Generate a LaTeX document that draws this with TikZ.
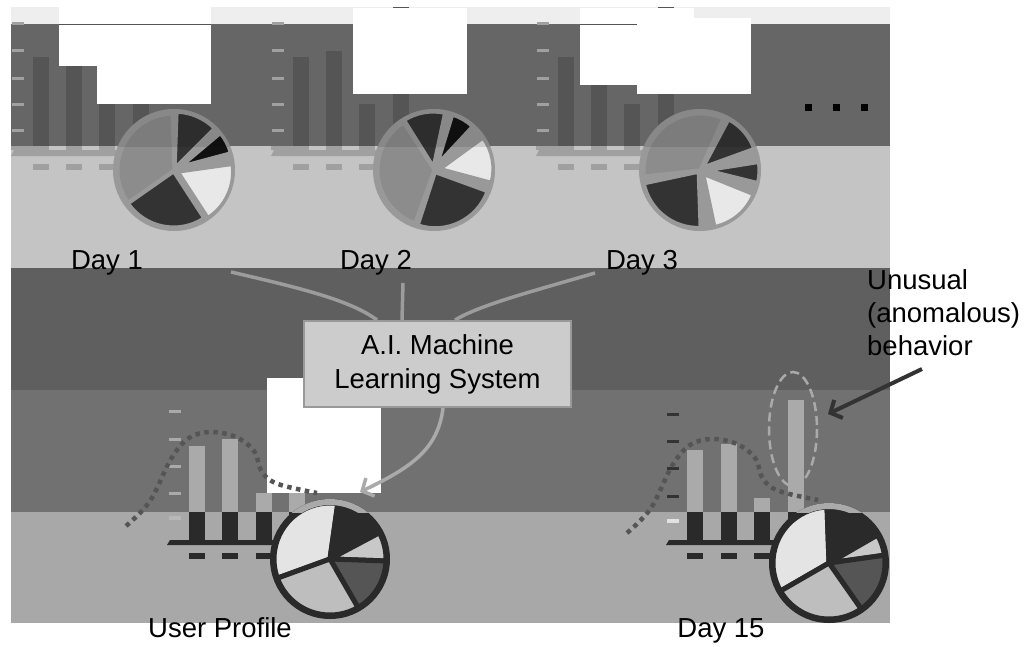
\documentclass[tikz,border=0pt]{standalone}
\usepackage{fontspec}
\setmainfont{Liberation Sans}
\usetikzlibrary{arrows.meta}
\definecolor{cStrip}{HTML}{EEEEEE}
\definecolor{cBandA}{HTML}{666666}
\definecolor{cBandB}{HTML}{C4C4C4}
\definecolor{cBandC}{HTML}{5F5F5F}
\definecolor{cBandD}{HTML}{717171}
\definecolor{cBandE}{HTML}{A8A8A8}
\definecolor{cBar}{HTML}{555555}
\definecolor{cTick}{HTML}{A0A0A0}
\definecolor{cRing}{HTML}{999999}
\definecolor{cBig}{HTML}{8C8C8C}
\definecolor{cDark}{HTML}{333333}
\definecolor{cWhite}{HTML}{E8E8E8}
\definecolor{cBlack}{HTML}{111111}
\definecolor{cInk}{HTML}{2A2A2A}
\definecolor{cLight}{HTML}{AAAAAA}
\definecolor{cLine}{HTML}{9C9C9C}
\definecolor{cDot}{HTML}{555555}
\definecolor{cBox}{HTML}{CCCCCC}
\definecolor{cPieA}{HTML}{E4E4E4}
\definecolor{cPieB}{HTML}{C8C8C8}
\definecolor{cPieC}{HTML}{555555}
\definecolor{cPieD}{HTML}{BEBEBE}
\newcommand{\pwedge}[5]{%
  \filldraw[#1] ({(#2+#3)/2}:#5) -- ++(#2:#4) arc[start angle=#2, end angle=#3, radius=#4] -- cycle;}
\tikzset{
  lbl/.style={font=\fontsize{27.5}{33}\selectfont, inner sep=0pt, anchor=base},
  toppie/.style={draw=cRing, line width=3pt, line join=round},
  lowpie/.style={draw=cInk, line width=5pt, line join=round},
  feed/.style={draw=cLine, line width=3.5pt},
  dotcurve/.style={draw=cDot, line width=4.5pt, dash pattern=on 4.5pt off 4.5pt},
  barb/.style={-{Straight Barb[length=9pt,width=20pt]}}
}
\begin{document}
\begin{tikzpicture}[x=1pt,y=-1pt]
\useasboundingbox (0,0) rectangle (1029,646);
\fill[white] (0,0) rectangle (1029,646);
% bands
\fill[cStrip] (11,7) rectangle (890,24);
\fill[cBandA] (11,24) rectangle (890,146);
\fill[cBandB] (11,146) rectangle (890,268);
\fill[cBandC] (11,268) rectangle (890,390);
\fill[cBandD] (11,390) rectangle (890,512);
\fill[cBandE] (11,512) rectangle (890,623);
% top charts
\foreach \ox in {0,260,525}{
  \begin{scope}[xshift=\ox]
    \foreach \ty in {22,48.5,76.5,102.5,128.5}{\fill[cTick] (12,\ty) rectangle (24,\ty+3);}
    \fill[cBar] (33,57) rectangle (49,146);
    \fill[cBar] (66,51) rectangle (82,146);
    \fill[cBar] (99,104) rectangle (115,146);
    \fill[cBar] (133,7) rectangle (149,146);
    \fill[cTick] (11,146) rectangle (33,150);
    \foreach \bx in {33,66,99,133}{\fill[cTick] (\bx,146) rectangle (\bx+16,150);}
    \fill[cTick] (11,156) -- (14,150) -- (150,150) -- (150,156) -- cycle;
    \foreach \bx in {33,66,99,133}{\fill[cTick] (\bx,164) rectangle (\bx+16,170);}
  \end{scope}
}
% white patches
\fill[white] (59,7) rectangle (211,66);
\fill[white] (97,66) rectangle (211,104);
\draw[cBar, line width=1pt] (59,24) -- (211,24);
\fill[white] (353,8) rectangle (467,94);
\fill[white] (580,8) rectangle (694,85);
\fill[white] (637,18) rectangle (751,94);
\draw[cBar, line width=1pt] (580,24) -- (637,24);
% top pies
\begin{scope}[shift={(174,170)}, yscale=-1]
  \fill[cRing] (0,0) circle[radius=61];
  \pwedge{fill=cBig, toppie}{92}{215}{56}{0}
  \pwedge{fill=cDark, toppie}{215}{303}{55}{2}
  \pwedge{fill=cWhite, toppie}{303}{368}{54}{5}
  \pwedge{fill=cBlack, toppie}{15}{40}{50}{9}
  \pwedge{fill=cDark, toppie}{45}{88}{55}{3}
\end{scope}
\begin{scope}[shift={(434,170)}, yscale=-1]
  \fill[cRing] (0,0) circle[radius=61];
  \pwedge{fill=cBig, toppie}{123}{250}{56}{0}
  \pwedge{fill=cDark, toppie}{78}{122}{54}{4}
  \pwedge{fill=cBlack, toppie}{47}{73}{50}{8}
  \pwedge{fill=cWhite, toppie}{-15}{36}{52}{7}
  \pwedge{fill=cDark, toppie}{-108}{-20}{55}{3}
\end{scope}
\begin{scope}[shift={(700,170)}, yscale=-1]
  \fill[cRing] (0,0) circle[radius=61];
  \pwedge{fill=cBig, toppie}{66}{186}{56}{0}
  \pwedge{fill=cDark, toppie}{20}{62}{53}{5}
  \pwedge{fill=cDark, toppie}{-14}{9}{50}{9}
  \pwedge{fill=cWhite, toppie}{-78}{-22}{53}{6}
  \pwedge{fill=cDark, toppie}{-168}{-88}{55}{3}
\end{scope}
\begin{scope}
  \clip (0,0) rectangle (1029,146);
  \fill[black, opacity=0.11] (174,170) circle[radius=61];
  \fill[black, opacity=0.11] (434,170) circle[radius=61];
  \fill[black, opacity=0.11] (700,170) circle[radius=61];
\end{scope}
% ellipsis
\foreach \dx in {805,833,861}{\fill[black] (\dx,104) rectangle (\dx+6.5,110.5);}
% day labels
\node[lbl] (day1) at (107,269) {Day 1};
\node[lbl] (day2) at (376,269) {Day 2};
\node[lbl] (day3) at (642,269) {Day 3};
% lower charts
\fill[cLight] (169,410) rectangle (181,413);
\fill[cLight] (169,438) rectangle (181,441);
\fill[cLight] (169,465) rectangle (181,468);
\fill[cLight] (169,492) rectangle (181,495);
\fill[cLight!85!white] (169,516) rectangle (181,520);
\fill[cDark] (667,413) rectangle (679,416);
\fill[cDark] (667,440) rectangle (679,443);
\fill[cDark] (667,467) rectangle (679,470);
\fill[cDark] (667,495) rectangle (679,498);
\fill[cWhite!90!cLight] (667,519) rectangle (679,523);
\foreach \bx/\bt in {189/446,222/439,256/493,289/493,687/450,721/444,754/498,788/400}{
  \fill[cLight] (\bx,\bt) rectangle (\bx+16,512);
  \fill[cInk] (\bx,512) rectangle (\bx+16,540);
}
\fill[cInk] (167,545) -- (170,540) -- (310,540) -- (310,545) -- cycle;
\fill[cInk] (666,545) -- (669,540) -- (810,540) -- (810,545) -- cycle;
\foreach \bx in {189,222,256,687,721,754}{\fill[cInk] (\bx,553) rectangle (\bx+16,559);}
\fill[white] (267,378) rectangle (381,493);
\draw[dotcurve] plot[smooth, tension=0.6] coordinates {(126,526) (150,501) (171,459) (189,438) (211,432) (236,437) (254,451) (262,472) (278,484) (317,493)};
\draw[dotcurve] plot[smooth, tension=0.6] coordinates {(627,533) (651,508) (672,466) (690,445) (712,439) (737,444) (755,458) (763,479) (779,491) (818,500)};
\draw[cLight, line width=2.5pt, dash pattern=on 9pt off 5pt] (793,429) ellipse[x radius=24, y radius=57];
% lower pies
\begin{scope}[shift={(330,559)}, yscale=-1]
  \fill[cInk] (0,0) circle[radius=60];
  \pwedge{fill=cPieA, lowpie}{82}{200}{56}{0}
  \pwedge{fill=cInk, lowpie}{28}{82}{56}{0}
  \pwedge{fill=cPieB, lowpie}{-2}{28}{56}{0}
  \pwedge{fill=cPieC, lowpie}{-60}{-2}{56}{0}
  \pwedge{fill=cPieD, lowpie}{200}{300}{56}{0}
\end{scope}
\begin{scope}[shift={(829,563)}, yscale=-1]
  \fill[cInk] (0,0) circle[radius=60];
  \pwedge{fill=cPieA, lowpie}{92}{210}{56}{0}
  \pwedge{fill=cInk, lowpie}{30}{92}{56}{0}
  \pwedge{fill=cPieB, lowpie}{8}{30}{56}{0}
  \pwedge{fill=cPieC, lowpie}{-55}{8}{56}{0}
  \pwedge{fill=cPieD, lowpie}{210}{305}{56}{0}
\end{scope}
\begin{scope}
  \clip (0,390) rectangle (1029,512);
  \draw[cLight, line width=6pt] (330,559) circle[radius=57];
  \draw[cLight, line width=6pt] (829,563) circle[radius=57];
\end{scope}
% AI box and connectors
\node[draw=cRing, fill=cBox, line width=2pt, minimum width=267pt, minimum height=86pt,
      inner sep=0pt, align=center, font=\fontsize{27.5}{34}\selectfont] (ai) at (437.5,364)
      {A.I. Machine\\Learning System};
\coordinate (f1) at (231,272);
\coordinate (f2) at (403,283);
\coordinate (f3) at (595,273);
\coordinate (uptip) at (360,492);
\draw[feed] (f1) .. controls (300,288) and (350,300) .. ([xshift=-60.5pt]ai.north);
\draw[feed] (f2) -- ([xshift=-35.5pt]ai.north);
\draw[feed] (f3) .. controls (530,292) and (480,305) .. ([xshift=17.5pt]ai.north);
\draw[feed, draw=cLight, barb] ([xshift=5.5pt]ai.south) .. controls (438,450) and (410,468) .. (uptip);
% labels bottom
\node[lbl] (uplbl) at (220,637) {User Profile};
\node[lbl] (d15lbl) at (721,637) {Day 15};
% anomaly note
\node[lbl, anchor=base west] (un1) at (867,289) {Unusual};
\node[lbl, anchor=base west] (un2) at (867,322) {(anomalous)};
\node[lbl, anchor=base west] (un3) at (867,355) {behavior};
\coordinate (anfrom) at (922,369);
\coordinate (anto) at (828,414);
\draw[cDark, line width=4pt, barb] (anfrom) -- (anto);
\end{tikzpicture}
\end{document}
